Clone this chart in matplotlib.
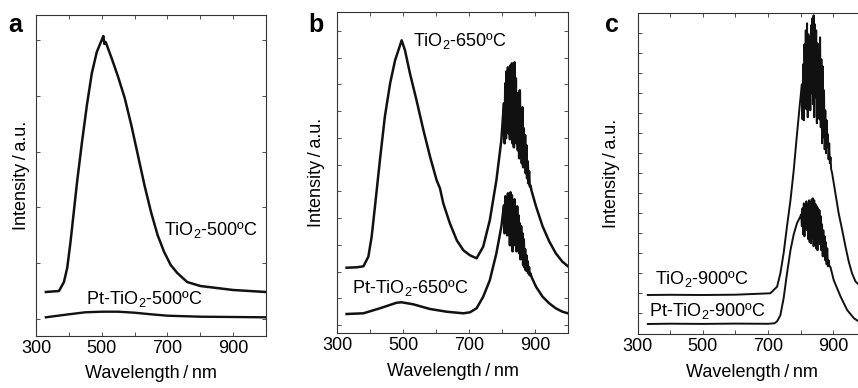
import matplotlib
matplotlib.use('Agg')
import matplotlib.pyplot as plt

# ---- panel a: TiO2 / Pt-TiO2 calcined at 500 C ----
a_tio2_wl = [330, 370, 385, 395, 405, 415, 425, 440, 455, 470, 485, 500, 505, 508, 512,
             530, 550, 570, 590, 610, 630, 650, 670, 690, 710, 730, 760, 800, 850, 900, 1000]
a_tio2_int = [44, 45, 54, 68, 94, 124, 154, 194, 231, 263, 284, 296, 300, 292, 294,
              278, 259, 238, 211, 181, 151, 124, 101, 84, 71, 63, 54, 50, 48, 46, 44]
a_pt_wl = [330, 400, 450, 500, 550, 600, 650, 700, 800, 900, 1000]
a_pt_int = [18.7, 21.7, 23.7, 24.3, 24.3, 23.3, 21.7, 20.3, 19.3, 19, 18.7]

# ---- panel b: 650 C ----
b_noise_wl = [806, 808, 810, 812, 814, 816, 818, 820, 822, 824, 826, 828, 830, 832,
              834, 836, 838, 840, 842, 844, 846, 848, 850, 852, 854, 856, 858, 860,
              862, 864, 866, 868, 870, 872, 874, 876, 878, 880, 882, 884, 886]
b_tio2_wl = ([329, 360, 380, 395, 405, 415, 430, 445, 461, 476, 491, 496, 506, 521, 541,
              562, 582, 602, 612, 622, 642, 663, 683, 703, 723, 743, 763, 783, 798, 803]
             + b_noise_wl + [890, 903, 923, 943, 963, 983, 1000])
b_tio2_int = ([65.6, 66, 67, 76.6, 96.6, 126.6, 173, 216.6, 250, 273, 288, 293, 283, 260, 233,
               203, 176.6, 153, 145, 130, 110, 93, 83, 78, 75, 86.6, 113, 153, 193, 217]
              + [230, 190, 250, 195, 262, 210, 266, 200, 258, 194, 268, 205, 270, 190,
                 264, 186, 271, 200, 255, 190, 240, 183, 233, 175, 243, 180, 216, 170,
                 226, 166, 205, 172, 198, 160, 188, 155, 172, 150, 162, 147, 148]
              + [142, 127, 107, 92, 80, 71.6, 67])
b_pt_wl = ([329, 380, 430, 481, 496, 531, 582, 632, 683, 703, 723, 743, 763, 783, 798, 803]
           + b_noise_wl + [890, 903, 923, 943, 963, 983, 1000])
b_pt_int = ([19.3, 20, 25, 30.6, 31, 29, 24.3, 21.6, 20, 21, 25, 36.6, 53, 80, 106.6, 120]
            + [128, 100, 137, 106, 135, 98, 140, 104, 137, 88, 141, 100, 138, 82,
               127, 93, 134, 88, 124, 82, 127, 87, 118, 80, 110, 74, 107, 80,
               100, 68, 94, 66, 84, 63, 78, 62, 72, 60, 66, 58, 60]
            + [56, 46.6, 36.6, 30, 25, 21.6, 20])

# ---- panel c: 900 C ----
c_tio2_noise_wl = [804, 806, 808, 810, 812, 814, 816, 818, 820, 822, 824, 826, 828, 830,
                   832, 834, 836, 838, 840, 842, 844, 846, 848, 850, 852, 854, 856, 858,
                   860, 862, 864, 866, 868, 870, 872, 874, 876, 878, 880, 882, 884, 886,
                   888, 890, 892, 894]
c_tio2_wl = ([331, 400, 500, 600, 707, 728, 738, 748, 758, 769, 779, 789, 799]
             + c_tio2_noise_wl + [897, 907, 917, 928, 938, 948, 958, 969, 978, 1000])
c_tio2_int = ([39.3, 39.5, 39.3, 39.6, 41, 47.6, 61, 81, 107, 134, 164, 200, 234]
              + [250, 215, 270, 214, 290, 244, 304, 225, 311, 217, 300, 231, 297, 224,
                 309, 241, 316, 230, 319, 217, 310, 237, 304, 211, 291, 224, 284, 215,
                 297, 207, 275, 191, 268, 197, 244, 185, 224, 181, 214, 187, 200, 175,
                 191, 171, 177, 165]
              + [161, 141, 121, 104, 87.6, 72.6, 61, 52.6, 50, 43])
c_pt_noise_wl = [802, 804, 806, 808, 810, 812, 814, 816, 818, 820, 822, 824, 826, 828,
                 830, 832, 834, 836, 838, 840, 842, 844, 846, 848, 850, 852, 854, 856,
                 858, 860, 862, 864, 866, 868, 870, 872, 874, 876, 878, 880, 882, 884,
                 886, 888, 890]
c_pt_wl = ([331, 400, 500, 600, 700, 720, 728, 738, 748, 758, 769, 779, 789, 799]
           + c_pt_noise_wl + [892, 902, 923, 943, 964, 978, 1000])
c_pt_int = ([10.3, 10.6, 10.4, 10.7, 10.5, 11, 13, 19, 36, 60, 84, 100, 111, 117.6]
            + [120, 108, 126, 100, 131, 98, 128, 106, 133, 104, 130, 95, 134, 92,
               132, 91, 135, 96, 136, 88, 134, 93, 130, 86, 128, 84, 126, 92,
               124, 90, 118, 84, 110, 78, 104, 78, 98, 74, 92, 70, 86, 68,
               74, 68, 68]
            + [67, 54, 37.6, 24.3, 16, 13, 11])

x_ticks = [300, 400, 500, 600, 700, 800, 900, 1000]
x_tick_labels = ['300', '', '500', '', '700', '', '900', '']

plt.rcParams['font.family'] = ['Liberation Sans', 'DejaVu Sans']
plt.rcParams['mathtext.fontset'] = 'custom'
plt.rcParams['mathtext.rm'] = 'Liberation Sans'
plt.rcParams['mathtext.it'] = 'Liberation Sans:italic'
plt.rcParams['mathtext.bf'] = 'Liberation Sans:bold'


def style_axis(ax, ymax, y0, ystep, ypad):
    """Box, inward ticks on all four sides and the axis titles."""
    ax.set_xlim(300, 1000)
    ax.set_ylim(0, ymax)
    ax.set_xticks(x_ticks)
    ax.set_xticklabels(x_tick_labels)
    yt = []
    v = y0
    while v < ymax:
        yt.append(v)
        v += ystep
    ax.set_yticks(yt)
    ax.set_yticklabels([])
    ax.tick_params(direction='in', top=True, right=True, length=3, width=0.6,
                   labelsize=13, pad=3, color='#333333')
    for s in ax.spines.values():
        s.set_linewidth(0.8)
        s.set_color('#333333')
    ax.set_xlabel('Wavelength\u2009/\u2009nm', fontsize=13, labelpad=6)
    ax.set_ylabel('Intensity\u2009/\u2009a.u.', fontsize=13, labelpad=ypad)


fig = plt.figure(figsize=(8.58, 3.88), dpi=100)
W, H = 858.0, 388.0

ax_a = fig.add_axes([36 / W, (H - 336) / H, 230 / W, 321 / H])
ax_b = fig.add_axes([337 / W, (H - 333.3) / H, 231 / W, 321.6 / H])
ax_c = fig.add_axes([637.7 / W, (H - 334.3) / H, 228 / W, 321 / H])

ink = '#111111'

ax_a.plot(a_tio2_wl, a_tio2_int, color=ink, lw=1.8)
ax_a.plot(a_pt_wl, a_pt_int, color=ink, lw=1.7)
style_axis(ax_a, 321, 17, 55.8, 1)
ax_a.text(690, 106, 'TiO$_2$-500ºC', fontsize=13, va='center')
ax_a.text(452, 37, 'Pt-TiO$_2$-500ºC', fontsize=13, va='center')

ax_b.plot(b_tio2_wl, b_tio2_int, color=ink, lw=1.8)
ax_b.plot(b_pt_wl, b_pt_int, color=ink, lw=1.8)
style_axis(ax_b, 321.6, 8.3, 26.75, 5.3)
ax_b.text(530, 292, 'TiO$_2$-650ºC', fontsize=13, va='center')
ax_b.text(345, 45, 'Pt-TiO$_2$-650ºC', fontsize=13, va='center')

ax_c.plot(c_tio2_wl, c_tio2_int, color=ink, lw=1.4)
ax_c.plot(c_pt_wl, c_pt_int, color=ink, lw=1.4)
style_axis(ax_c, 321, 21, 20, 9.6)
ax_c.text(353, 55, 'TiO$_2$-900ºC', fontsize=13, va='center')
ax_c.text(335, 23, 'Pt-TiO$_2$-900ºC', fontsize=13, va='center')

for letter, xpx in [('a', 8), ('b', 308), ('c', 605)]:
    fig.text(xpx / W, (H - 32) / H, letter, fontsize=18, fontweight='bold',
             va='baseline', ha='left')

fig.savefig('out.png', dpi=100)
